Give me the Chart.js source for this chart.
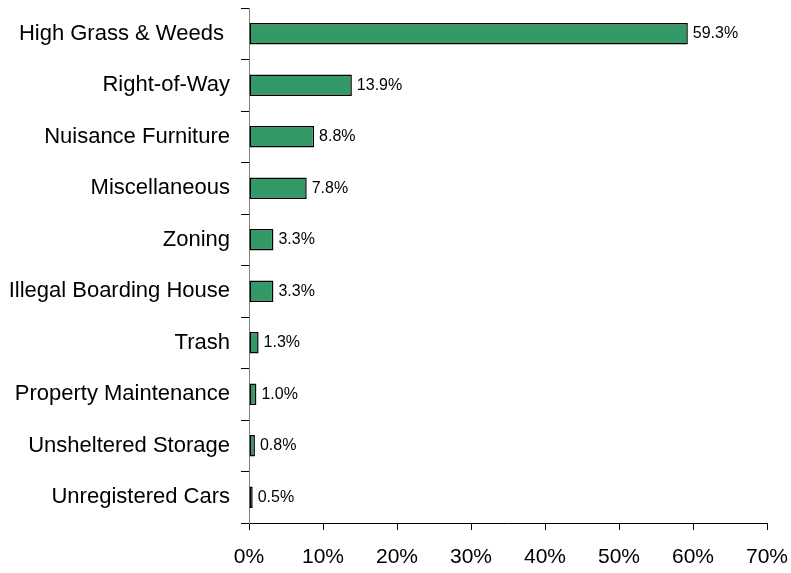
<!DOCTYPE html>
<html>
<head>
<meta charset="utf-8">
<script src="https://cdn.jsdelivr.net/npm/chart.js@4/dist/chart.umd.min.js"></script>
<style>
  html, body { margin: 0; padding: 0; background: #fff; }
  #wrap { width: 791px; height: 573px; position: relative; }
</style>
</head>
<body>
<div id="wrap"><canvas id="violationsChart"></canvas></div>
<script>
// Share of complaints by violation type
const categories = [
  'High Grass & Weeds ', 'Right-of-Way', 'Nuisance Furniture', 'Miscellaneous',
  'Zoning', 'Illegal Boarding House', 'Trash', 'Property Maintenance',
  'Unsheltered Storage', 'Unregistered Cars'
];
const shares = [59.3, 13.9, 8.8, 7.8, 3.3, 3.3, 1.3, 1.0, 0.8, 0.5];
const xTicks = [0, 10, 20, 30, 40, 50, 60, 70];

const font = '"Liberation Sans", Arial, sans-serif';

// writes the percentage just past the end of each bar
const valueLabels = {
  id: 'valueLabels',
  afterDatasetsDraw(chart) {
    const ctx = chart.ctx;
    const meta = chart.getDatasetMeta(0);
    ctx.save();
    ctx.font = '16px ' + font;
    ctx.fillStyle = '#000';
    ctx.textAlign = 'left';
    ctx.textBaseline = 'middle';
    meta.data.forEach(function (bar, i) {
      ctx.fillText(shares[i].toFixed(1) + '%', bar.x + 5, bar.y);
    });
    ctx.restore();
  }
};

const ctx = document.getElementById('violationsChart').getContext('2d');
const violationsChart = new Chart(ctx, {
  type: 'bar',
  data: {
    labels: categories,
    datasets: [{
      data: shares,
      backgroundColor: '#339966',
      borderColor: '#000',
      borderWidth: 1.5,
      borderSkipped: false,
      categoryPercentage: 1,
      barPercentage: 0.42
    }]
  },
  options: {
    indexAxis: 'y',
    responsive: true,
    maintainAspectRatio: false,
    animation: false,
    layout: { padding: { top: 8, right: 24, bottom: 0, left: 0 } },
    plugins: {
      legend: { display: false },
      tooltip: { enabled: false }
    },
    scales: {
      x: {
        min: 0,
        max: 70,
        afterBuildTicks: function (scale) {
          scale.ticks = xTicks.map(v => ({ value: v }));
        },
        afterFit: function (scale) {
          scale.height = 50;
          scale.paddingLeft = 0;
          scale.paddingRight = 0;
        },
        border: { display: true, color: '#000', width: 1 },
        grid: { drawOnChartArea: false, drawTicks: true, tickLength: 7, color: '#000' },
        ticks: {
          padding: 15,
          color: '#000',
          font: { family: font, size: 21 },
          maxRotation: 0,
          callback: v => v + '%'
        }
      },
      y: {
        offset: true,
        afterFit: function (scale) {
          scale.width = 249;
          scale.paddingTop = 0;
          scale.paddingBottom = 0;
        },
        border: { display: true, color: '#808080', width: 1 },
        grid: { drawOnChartArea: false, drawTicks: true, tickLength: 8, color: '#000', offset: true },
        ticks: {
          padding: 11,
          color: '#000',
          font: { family: font, size: 22 }
        }
      }
    }
  },
  plugins: [valueLabels]
});
</script>
</body>
</html>
